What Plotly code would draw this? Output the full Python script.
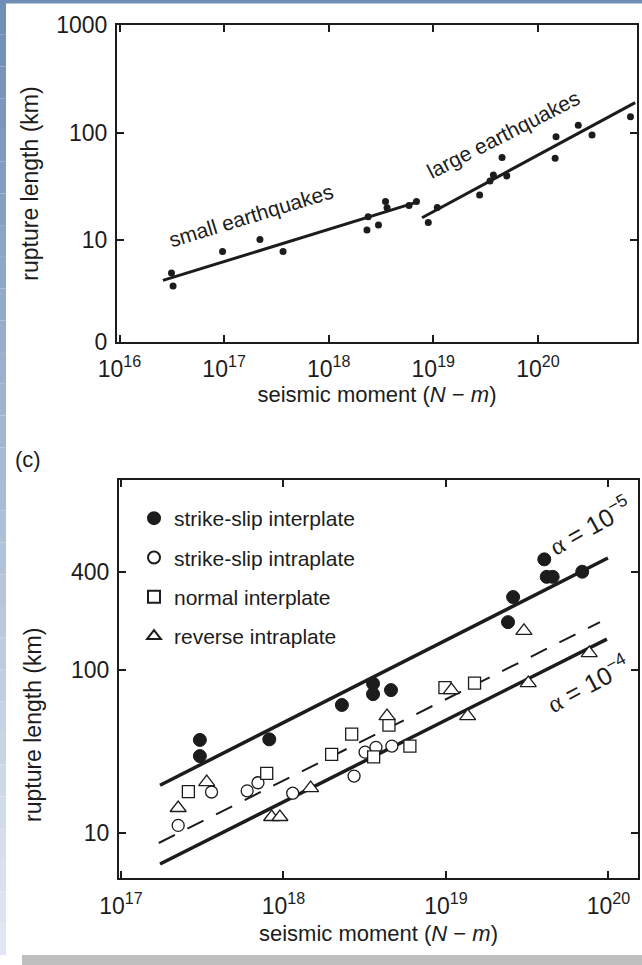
import plotly.graph_objects as go

# ---------------- upper panel: rupture length vs. seismic moment ----------------
small_moment = [3.14e16, 3.25e16, 9.66e16, 2.20e17, 3.66e17, 2.32e18, 2.99e18,
                2.38e18, 3.49e18, 3.61e18, 5.86e18, 6.90e18]
small_length = [4.93, 3.73, 7.82, 10.1, 7.82, 12.4, 13.8, 16.4, 22.8, 19.9, 20.9, 22.8]
large_moment = [8.95e18, 1.09e19, 2.77e19, 3.48e19, 3.75e19, 5.04e19, 4.54e19,
                1.46e20, 1.49e20, 2.43e20, 3.29e20, 7.67e20]
large_length = [14.5, 20.1, 26.2, 35.4, 40.3, 39.4, 58.7, 57.5, 91.4, 117, 94.8, 140]

small_fit_moment = [2.6e16, 7.1e18]
small_fit_length = [4.2, 22.6]
large_fit_moment = [7.8e18, 8.5e20]
large_fit_length = [16.1, 190]

top_x_ticks = [1e16, 1e17, 1e18, 1e19, 1e20, 1e21]
top_x_labels = ["10<sup>16</sup>", "10<sup>17</sup>", "10<sup>18</sup>",
                "10<sup>19</sup>", "10<sup>20</sup>", "10<sup>21</sup>"]
top_y_ticks = [10 ** 0.051, 10, 100, 1000]
top_y_labels = ["0", "10", "100", "1000"]

# ---------------- lower panel (c): fault types ----------------
ss_inter_moment = [3.06e17, 3.06e17, 8.18e17, 2.29e18, 3.56e18, 3.56e18, 4.59e18,
                   2.41e19, 2.59e19, 4.03e19, 4.17e19, 4.54e19, 6.90e19]
ss_inter_length = [37.2, 29.6, 37.5, 61.0, 82.6, 71.1, 75.3, 197, 281, 479, 374, 374, 402]
ss_intra_moment = [2.25e17, 3.61e17, 5.98e17, 6.97e17, 1.14e18, 2.72e18, 3.18e18,
                   3.71e18, 4.65e18]
ss_intra_length = [11.1, 17.8, 18.1, 20.3, 17.5, 22.3, 31.3, 33.5, 34.1]
normal_moment = [2.60e17, 7.89e17, 1.98e18, 2.63e18, 3.59e18, 4.46e18, 6.00e18,
                 9.86e18, 1.50e19]
normal_length = [17.9, 23.2, 30.3, 40.4, 29.3, 45.9, 34.1, 78.0, 83.2]
reverse_moment = [2.25e17, 3.37e17, 8.46e17, 9.51e17, 1.47e18, 4.34e18, 1.08e19,
                  1.36e19, 3.21e19, 3.02e19, 7.62e19]
reverse_length = [14.2, 20.5, 12.5, 12.5, 18.8, 52.1, 75.3, 52.1, 83.2, 174, 127]

alpha5_moment = [1.74e17, 9.93e19]
alpha5_length = [19.6, 488]
mid_moment = [1.71e17, 8.87e19]
mid_length = [8.65, 197]
alpha4_moment = [1.74e17, 9.79e19]
alpha4_length = [6.43, 155]

bot_x_ticks = [1e17, 1e18, 1e19, 1e20]
bot_x_labels = ["10<sup>17</sup>", "10<sup>18</sup>", "10<sup>19</sup>", "10<sup>20</sup>"]
bot_y_ticks = [10, 100, 400]
bot_y_labels = ["10", "100", "400"]

W, H = 642, 965
INK = "#1c1c1c"
FONT = "Liberation Sans, Arial, Helvetica, sans-serif"


def px_x(p):
    return p / W


def px_y(p):
    return 1 - p / H


fig = go.Figure()

# upper panel marks
for mx, ly in ((small_fit_moment, small_fit_length), (large_fit_moment, large_fit_length)):
    fig.add_trace(go.Scatter(x=mx, y=ly, mode="lines", xaxis="x", yaxis="y",
                             line=dict(color=INK, width=3), showlegend=False,
                             hoverinfo="skip"))
fig.add_trace(go.Scatter(x=small_moment + large_moment, y=small_length + large_length,
                         mode="markers", xaxis="x", yaxis="y", showlegend=False,
                         marker=dict(color=INK, size=7)))

# lower panel lines
fig.add_trace(go.Scatter(x=alpha5_moment, y=alpha5_length, mode="lines", xaxis="x2", yaxis="y2",
                         line=dict(color=INK, width=3.5), showlegend=False))
fig.add_trace(go.Scatter(x=mid_moment, y=mid_length, mode="lines", xaxis="x2", yaxis="y2",
                         line=dict(color=INK, width=2, dash="18px,14px"), showlegend=False))
fig.add_trace(go.Scatter(x=alpha4_moment, y=alpha4_length, mode="lines", xaxis="x2", yaxis="y2",
                         line=dict(color=INK, width=3.5), showlegend=False))

# lower panel symbols
series = [
    ("strike-slip interplate", ss_inter_moment, ss_inter_length,
     dict(symbol="circle", size=13, color=INK, line=dict(color=INK, width=1))),
    ("strike-slip intraplate", ss_intra_moment, ss_intra_length,
     dict(symbol="circle", size=12, color="white", line=dict(color=INK, width=1.3))),
    ("normal interplate", normal_moment, normal_length,
     dict(symbol="square", size=12, color="white", line=dict(color=INK, width=1.3))),
    ("reverse intraplate", reverse_moment, reverse_length,
     dict(symbol="triangle-up", size=14, color="white", line=dict(color=INK, width=1.3))),
]
for i, (name, mx, ly, mk) in enumerate(series):
    fig.add_trace(go.Scatter(x=mx, y=ly, mode="markers", name=name, xaxis="x2", yaxis="y2",
                             marker=mk, legendgroup=f"g{i}"))

axis_common = dict(type="log", showgrid=False, zeroline=False, showline=True,
                   automargin=False,
                   linecolor=INK, linewidth=2, mirror="ticks", ticks="inside",
                   ticklen=7, tickwidth=1.5, tickcolor=INK,
                   tickfont=dict(family=FONT, size=23, color=INK),
                   title_font=dict(family=FONT, size=22, color=INK))

xtitle = "seismic moment (<i>N</i> − <i>m</i>)"

fig.update_layout(
    width=W, height=H,
    margin=dict(l=0, r=0, t=0, b=0),
    paper_bgcolor="white", plot_bgcolor="white",
    font=dict(family=FONT, color=INK),
    xaxis=dict(axis_common, domain=[px_x(117), px_x(637)], anchor="y",
               range=[15.976, 20.947], tickmode="array", tickvals=top_x_ticks,
               ticktext=top_x_labels, ticklabelstandoff=5, ticklabeloverflow="allow",
               title=dict(text=xtitle, standoff=4)),
    yaxis=dict(axis_common, domain=[px_y(342), px_y(25)], anchor="x",
               range=[0.05, 3.001], tickmode="array", tickvals=top_y_ticks,
               ticktext=top_y_labels, ticklabelstandoff=3,
               title=dict(text="rupture length (km)", standoff=11,
                          font=dict(family=FONT, size=23, color=INK))),
    xaxis2=dict(axis_common, domain=[px_x(119), px_x(638)], anchor="y2",
                range=[16.988, 20.182], tickmode="array", tickvals=bot_x_ticks,
                ticktext=bot_x_labels, ticklabelstandoff=6, ticklabeloverflow="allow",
                title=dict(text=xtitle, standoff=8)),
    yaxis2=dict(axis_common, domain=[px_y(878), px_y(480)], anchor="x2",
                range=[0.722, 3.168], tickmode="array", tickvals=bot_y_ticks,
                ticktext=bot_y_labels, ticklabelstandoff=3),
    legend=dict(x=px_x(134), y=px_y(498), xanchor="left", yanchor="top",
                bgcolor="rgba(0,0,0,0)", font=dict(family=FONT, size=21, color=INK),
                tracegroupgap=9, itemsizing="constant"),
    showlegend=True,
)

ann_font = dict(family=FONT, size=21, color=INK)
# lower panel y title sits below the panel's centre line
fig.add_annotation(text="rupture length (km)", xref="paper", yref="paper",
                   x=px_x(33), y=px_y(725), xanchor="center", yanchor="middle",
                   textangle=-90, showarrow=False, font=dict(family=FONT, size=23, color=INK))
fig.add_annotation(text="(c)", xref="paper", yref="paper", x=px_x(28), y=px_y(460),
                   xanchor="center", yanchor="middle",
                   showarrow=False, font=dict(family=FONT, size=22, color=INK))
fig.add_annotation(text="small earthquakes", xref="x", yref="y", x=17.257, y=1.223,
                   textangle=-17, showarrow=False, font=ann_font)
fig.add_annotation(text="large earthquakes", xref="x", yref="y", x=19.666, y=1.986,
                   textangle=-27, showarrow=False, font=ann_font)
alpha = "<span style='font-family:Liberation Serif'>α</span>"
fig.add_annotation(text=alpha + " = 10<sup>−5</sup>", xref="x2", yref="y2", x=19.886, y=2.891,
                   textangle=-29, showarrow=False, font=dict(family=FONT, size=25, color=INK))
fig.add_annotation(text=alpha + " = 10<sup>−4</sup>", xref="x2", yref="y2", x=19.874, y=1.920,
                   textangle=-28, showarrow=False, font=dict(family=FONT, size=25, color=INK))

# page frame: blue band on top, fading blue strip on the left, grey bar at the bottom
fig.add_shape(type="rect", xref="paper", yref="paper", x0=0, x1=1, y0=px_y(3.5), y1=1,
              line_width=0, fillcolor="#6f8db5", layer="below")
steps = 30
top_c, bot_c = (112, 142, 182), (225, 231, 240)
for i in range(steps):
    t = i / (steps - 1)
    c = tuple(int(round(a + (b - a) * t)) for a, b in zip(top_c, bot_c))
    fig.add_shape(type="rect", xref="paper", yref="paper", x0=0, x1=px_x(6),
                  y0=px_y(3 + (i + 1) * (952 / steps)), y1=px_y(3 + i * (952 / steps)),
                  line_width=0, fillcolor="rgb(%d,%d,%d)" % c, layer="below")
fig.add_shape(type="rect", xref="paper", yref="paper", x0=px_x(22), x1=1, y0=0, y1=px_y(955),
              line_width=0, fillcolor="#bfbfbf", layer="below")

fig.write_html("out.html", config={"displayModeBar": False})
